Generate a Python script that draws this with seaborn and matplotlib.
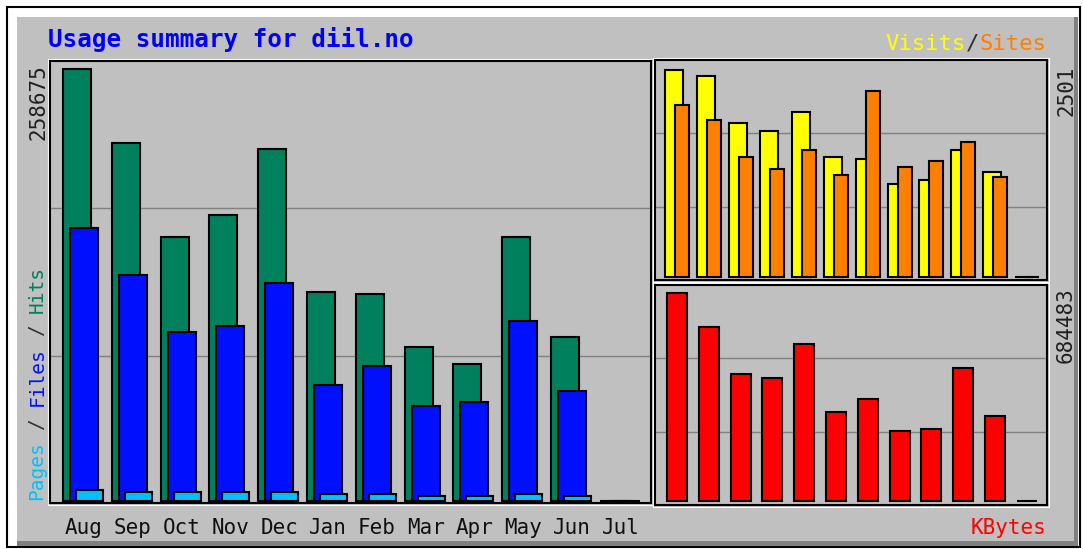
import numpy as np
import matplotlib.pyplot as plt
import seaborn as sns
from matplotlib.patches import Rectangle

# monthly usage, Aug .. Jul (Jul has no data yet)
months = ["Aug", "Sep", "Oct", "Nov", "Dec", "Jan", "Feb", "Mar", "Apr", "May", "Jun", "Jul"]
hits = [258675, 214400, 158100, 171300, 210800, 125200, 124000, 92200, 82000, 158100, 98200, 0]
files = [163500, 135300, 101200, 104800, 130500, 69500, 80800, 56900, 59300, 107800, 65900, 0]
pages = [6600, 5400, 5400, 5400, 5400, 4200, 4200, 3000, 3000, 4200, 3000, 0]
visits = [2501, 2428, 1864, 1760, 1994, 1453, 1429, 1124, 1172, 1534, 1272, 0]
sites = [2075, 1897, 1453, 1301, 1534, 1229, 2251, 1325, 1405, 1631, 1205, 0]
kbytes = [684483, 572600, 419300, 404800, 518000, 292900, 335700, 229400, 236900, 439000, 278700, 0]

C_HIT, C_FILE, C_PAGE = "#00805c", "#0010ff", "#00c0ff"
C_VISIT, C_SITE, C_KB = "#ffff00", "#ff8000", "#ff0000"
GRAY = "#c0c0c0"

W, H = 1083, 549
sns.set_style("white")
plt.rcParams["font.family"] = ["DejaVu Sans Mono", "DejaVu Sans"]

fig = plt.figure(figsize=(W / 100, H / 100), dpi=100)
fig.patch.set_facecolor("white")


def box(x0, y0, x1, y1):
    return [x0 / W, 1 - y1 / H, (x1 - x0) / W, (y1 - y0) / H]


def frame(x0, y0, x1, y1, **kw):
    b = box(x0, y0, x1, y1)
    fig.patches.append(Rectangle((b[0], b[1]), b[2], b[3], transform=fig.transFigure, **kw))


# outer frame and grey background with bevel
frame(7, 7, 1080, 547, fill=False, ec="black", lw=1.5, zorder=-5)
frame(17, 17, 1078, 546, fc="#808080", ec="none", zorder=-4)
frame(17, 17, 1074, 541, fc=GRAY, ec="none", zorder=-3)


def panel(x0, y0, x1, y1, origin, slot, zero_px, max_px, vmax):
    frame(x0 - 2, y0 - 2, x1 + 2, y1 + 2, fill=False, ec="white", lw=0.8, zorder=-1)
    ax = fig.add_axes(box(x0, y0, x1, y1))
    ax.set_facecolor(GRAY)
    per_px = vmax / (zero_px - max_px)
    lo, hi = -(y1 - zero_px) * per_px, (zero_px - y0) * per_px
    for k in (1, 2):
        ax.axhline(lo + (hi - lo) * k / 3, color="#808080", lw=1, zorder=0.5)
    ax._lims = ((x0 - origin) / slot, (x1 - origin) / slot), (lo, hi)
    return ax


def bars(ax, vals, left, width, color):
    xpos = np.arange(len(vals)) + left + width / 2
    sns.barplot(x=xpos, y=vals, native_scale=True, width=width, color=color,
                saturation=1, edgecolor="black", linewidth=1.5, errorbar=None, ax=ax)


def finish(ax):
    xl, yl = ax._lims
    ax.set_xlim(*xl)
    ax.set_ylim(*yl)
    ax.set_xlabel("")
    ax.set_ylabel("")
    ax.set_yticks([])
    for s in ax.spines.values():
        s.set_visible(True)
        s.set_color("black")
        s.set_linewidth(1.5)


# main panel: hits / files / pages
ax1 = panel(50, 61, 651, 503, 63, 48.8, 501, 69, max(hits))
bars(ax1, hits, 0.0, 0.574, C_HIT)
bars(ax1, files, 0.143, 0.574, C_FILE)
bars(ax1, pages, 0.266, 0.553, C_PAGE)
finish(ax1)
ax1.set_xticks(np.arange(len(months)) + 0.43, months)
ax1.tick_params(axis="x", length=0, pad=11, labelsize=15, labelcolor="#101010")

# visits / sites
ax2 = panel(655, 60, 1047, 280, 665, 31.8, 277, 70, max(visits))
bars(ax2, visits, 0.0, 0.566, C_VISIT)
bars(ax2, sites, 0.314, 0.44, C_SITE)
finish(ax2)
ax2.set_xticks([])

# kbytes
ax3 = panel(655, 285, 1047, 505, 665, 31.8, 501, 293, max(kbytes))
bars(ax3, kbytes, 0.063, 0.629, C_KB)
finish(ax3)
ax3.set_xticks([])


def ftext(x, y, s, **kw):
    fig.text(x / W, 1 - y / H, s, **kw)


ftext(48, 40, "Usage summary for diil.no", fontsize=17.5, fontweight="bold",
      color="#0000ff", ha="left", va="center")

# max value labels
ftext(38, 64, str(max(hits)), rotation=90, ha="center", va="top", fontsize=15, color="#202020")
ftext(1066, 66, str(max(visits)), rotation=90, ha="center", va="top", fontsize=15, color="#202020")
ftext(1066, 287, str(max(kbytes)), rotation=90, ha="center", va="top", fontsize=15, color="#202020")

# vertical legend Pages / Files / Hits
fs = 14
cw = 0.602 * fs * 100 / 72
for idx, txt, col in [(0, "Pages", C_PAGE), (6, "/", "#303030"), (8, "Files", C_FILE),
                      (14, "/", "#303030"), (16, "Hits", C_HIT)]:
    ftext(37, 500 - idx * cw, txt, rotation=90, ha="center", va="bottom", fontsize=fs, color=col)

# Visits / Sites
fs = 16
cw = 0.602 * fs * 100 / 72
for idx, txt, col in [(0, "Sites", C_SITE), (5, "/", "#303030"), (6, "Visits", C_VISIT)]:
    ftext(1046 - idx * cw, 44, txt, ha="right", va="center", fontsize=fs, color=col)

ftext(1046, 528, "KBytes", ha="right", va="center", fontsize=15, color=C_KB)

fig.savefig("out.png", dpi=100)
